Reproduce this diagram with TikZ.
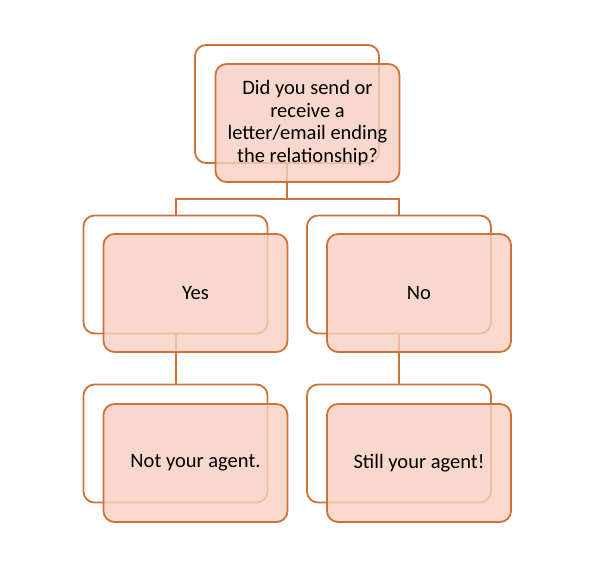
\documentclass[tikz,border=0pt]{standalone}
\usepackage{fontspec}
\setmainfont{Carlito}
\usepackage{tikz}

\definecolor{boxline}{RGB}{205,115,55}
\definecolor{boxfill}{RGB}{247,207,192}

\tikzset{
    backbox/.style={draw=boxline, line width=1.8pt, fill=white, rounded corners=11pt,
        minimum width=184pt, minimum height=118pt, inner sep=0pt},
    frontbox/.style={draw=boxline, line width=1.8pt, fill=boxfill, fill opacity=0.8,
        text opacity=1, rounded corners=11pt, minimum width=184pt, minimum height=118pt,
        inner sep=0pt, align=center, font=\fontsize{20.5}{22.7}\selectfont},
    conn/.style={draw=boxline, line width=2pt}
}

\begin{document}
\begin{tikzpicture}[x=1pt, y=-1pt]
    \useasboundingbox (0,0) rectangle (600,575);

    % back boxes
    \node[backbox] (q) at (287,104) {};
    \node[backbox] (yes) at (175.5,274.5) {};
    \node[backbox] (no) at (399,274.5) {};
    \node[backbox] (notagent) at (175.5,443.5) {};
    \node[backbox] (stillagent) at (399,443.5) {};

    % connectors
    \coordinate (split) at (287,199);
    \draw[conn] (q.south) -- (split);
    \draw[conn] (yes.north) |- (split) -| (no.north);
    \draw[conn] (yes.south) -- (notagent.north);
    \draw[conn] (no.south) -- (stillagent.north);

    % front boxes with the text
    \node[frontbox] (qf) at (307.5,123) {Did you send or\\receive a\\letter/email ending\\the relationship?};
    \node[frontbox] (yesf) at (195.5,293) {Yes};
    \node[frontbox] (nof) at (419,293) {No};
    \node[frontbox] (notagentf) at (195.5,463) {Not your agent.};
    \node[frontbox] (stillagentf) at (419,463) {Still your agent!};
\end{tikzpicture}
\end{document}
